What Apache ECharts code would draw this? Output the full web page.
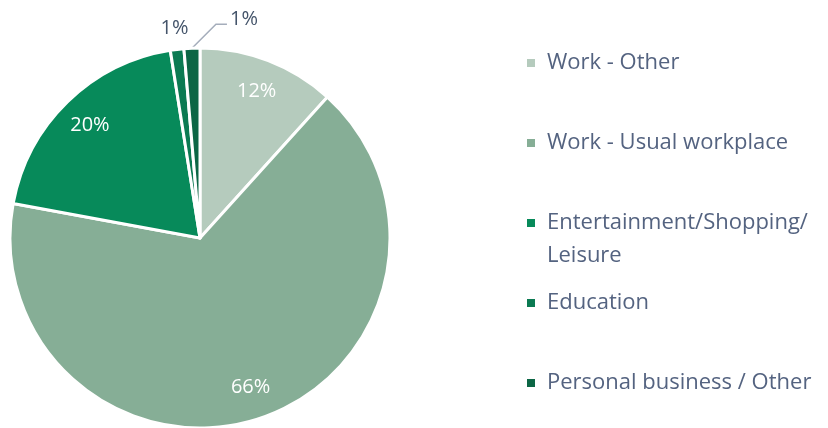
<!DOCTYPE html>
<html>
<head>
<meta charset="utf-8">
<script src="https://cdn.jsdelivr.net/npm/echarts@6/dist/echarts.min.js"></script>
<style>
html,body{margin:0;padding:0;background:#fff;}
#chart{width:828px;height:428px;}
</style>
</head>
<body>
<div id="chart"></div>
<script>
const categories = ['Work - Other', 'Work - Usual workplace', 'Entertainment/Shopping/Leisure', 'Education', 'Personal business / Other'];
const values = [11.7, 66.2, 19.6, 1.15, 1.35];
const percentLabels = ['12%', '66%', '20%', '1%', '1%'];
const legendLabels = ['Work - Other', 'Work - Usual workplace', ' \nEntertainment/Shopping/\nLeisure', 'Education', 'Personal business / Other'];

const colors = ['#b5cbbd', '#86ae96', '#078a5a', '#0b7a52', '#0c6645'];
const CX = 200, CY = 238, R = 190;
const FONT = 'Open Sans';

const total = values.reduce((a, b) => a + b, 0);
const midAngles = [];
let acc = 0;
values.forEach(v => { midAngles.push((acc + v / 2) / total * 2 * Math.PI); acc += v; });

const chart = echarts.init(document.getElementById('chart'));

const legendTops = [63, 143, 223, 303, 383];
const legends = categories.map((name, i) => {
  const multi = legendLabels[i].indexOf('\n') >= 0;
  return {
    data: [name],
    orient: 'vertical',
    left: 525,
    top: multi ? legendTops[i] - 49.5 : legendTops[i] - 16.5,
    padding: 0,
    itemWidth: 10,
    itemHeight: 10,
    icon: 'rect',
    selectedMode: false,
    formatter: () => legendLabels[i],
    textStyle: {
      fontFamily: FONT,
      fontSize: 22,
      color: '#546380',
      lineHeight: 33,
      padding: [0, 0, 0, 6]
    }
  };
});

chart.setOption({
  animation: false,
  color: colors,
  legend: legends,
  series: [{
    type: 'pie',
    center: [CX, CY],
    radius: R,
    startAngle: 90,
    clockwise: true,
    avoidLabelOverlap: false,
    itemStyle: { borderColor: '#ffffff', borderWidth: 3 },
    emphasis: { disabled: true },
    label: {
      show: true,
      fontFamily: FONT,
      fontSize: 20,
      formatter: p => percentLabels[p.dataIndex]
    },
    labelLayout: function (params) {
      const i = params.dataIndex;
      const a = midAngles[i];
      const s = Math.sin(a), c = Math.cos(a);
      if (i <= 2) {
        const d = R * 0.83;
        return { x: CX + d * s, y: CY - d * c, align: 'center', verticalAlign: 'middle' };
      }
      if (i === 3) {
        const d = R + 21;
        return { x: CX + d * s, y: CY - d * c, align: 'center', verticalAlign: 'middle' };
      }
      const p0 = [CX + R * s, CY - R * c];
      const p1 = [p0[0] + 24, p0[1] - 24];
      const p2 = [p1[0] + 11, p1[1]];
      return {
        x: p2[0] + 3, y: p1[1] - 5, align: 'left', verticalAlign: 'middle',
        labelLinePoints: [p0, p1, p2]
      };
    },
    data: categories.map((name, i) => {
      const inside = i <= 2;
      return {
        name: name,
        value: values[i],
        label: inside
          ? { position: 'inside', color: '#ffffff' }
          : { position: 'outside', color: '#44546a' },
        labelLine: {
          show: i === 4,
          lineStyle: { color: '#a5adbb', width: 1.5 }
        }
      };
    })
  }]
});
</script>
</body>
</html>
